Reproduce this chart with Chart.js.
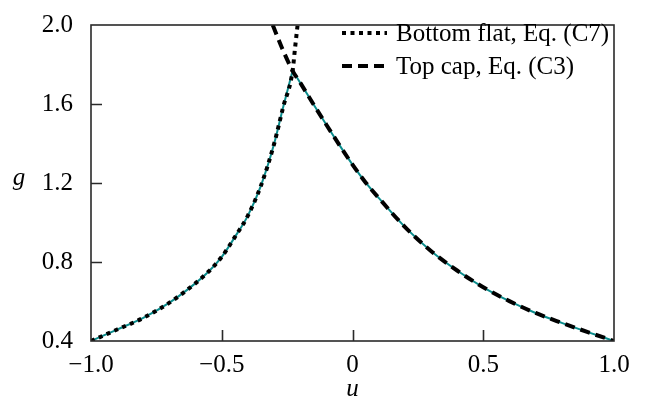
<!DOCTYPE html>
<html>
<head>
<meta charset="utf-8">
<script src="https://cdn.jsdelivr.net/npm/chart.js@4.4.1/dist/chart.umd.min.js"></script>
<style>
html,body{margin:0;padding:0;background:#fff;}
#wrap{width:665px;height:402px;}
</style>
</head>
<body>
<div id="wrap"><canvas id="gChart"></canvas></div>
<script>
// g(u): bottom flat branch (C7) and top cap branch (C3)

const uBottom = [-1.0,-0.9,-0.8,-0.7,-0.6,-0.55,-0.5,-0.45,-0.4,-0.35,-0.3,-0.265,-0.229,-0.22,-0.21];
const gBottom = [0.40,0.458,0.517,0.594,0.693,0.752,0.826,0.926,1.035,1.187,1.397,1.585,1.768,1.88,2.0];

const uTop = [-0.305,-0.27,-0.229,-0.2,-0.15,-0.1,-0.05,0,0.05,0.1,0.2,0.3,0.4,0.5,0.6,0.7,0.8,0.9,1.0];
const gTop = [2.0,1.885,1.768,1.708,1.600,1.495,1.392,1.293,1.203,1.125,0.978,0.856,0.757,0.672,0.602,0.542,0.492,0.445,0.40];

const uPeak = -0.229;

const xTicks = [-1.0,-0.5,0,0.5,1.0];
const yTicks = [0.4,0.8,1.2,1.6,2.0];

const seriesNames = ["Bottom flat, Eq. (C7)","Top cap, Eq. (C3)"];

const FONT = "'Liberation Serif','Times New Roman',serif";
const TEAL = "#0b8c8c";

function pts(us, gs){
  return us.map((u,i) => ({x:u, y:gs[i]}));
}

// teal curve = lower envelope, split at the cusp
const tealLeft = pts(uBottom, gBottom).filter(p => p.x <= uPeak);
const tealRight = pts(uTop, gTop).filter(p => p.x >= uPeak);

function fmt(v){
  if (v === 0) return "0";
  const s = Math.abs(v).toFixed(1);
  return v < 0 ? "\u2212" + s : s;
}

const framePlugin = {
  id:"frame",
  afterDraw(chart){
    const ctx = chart.ctx;
    const a = chart.chartArea;
    const xs = chart.scales.x, ys = chart.scales.y;
    ctx.save();
    ctx.strokeStyle = "#2a2a2a";
    ctx.lineWidth = 1.6;
    ctx.setLineDash([]);
    ctx.strokeRect(a.left, a.top, a.right - a.left, a.bottom - a.top);
    ctx.beginPath();
    xTicks.slice(1,-1).forEach(v => {
      const px = Math.round(xs.getPixelForValue(v)) + 0.5;
      ctx.moveTo(px, a.bottom);
      ctx.lineTo(px, a.bottom - 11);
    });
    yTicks.slice(1,-1).forEach(v => {
      const py = Math.round(ys.getPixelForValue(v)) + 0.5;
      ctx.moveTo(a.left, py);
      ctx.lineTo(a.left + 11, py);
    });
    ctx.stroke();

    // axis titles
    ctx.fillStyle = "#000";
    ctx.font = "italic 25px " + FONT;
    ctx.textAlign = "center";
    ctx.textBaseline = "middle";
    ctx.fillText("g", 19, ys.getPixelForValue(1.2) - 5);
    ctx.fillText("u", xs.getPixelForValue(0), 389);

    // legend
    ctx.font = "25px " + FONT;
    ctx.textAlign = "left";
    chart.data.datasets.forEach(ds => {
      if (!ds.legendRow) return;
      const y = ds.legendRow;
      ctx.strokeStyle = ds.borderColor;
      ctx.lineWidth = ds.borderWidth;
      ctx.lineCap = "butt";
      ctx.setLineDash(ds.borderDash);
      ctx.beginPath();
      ctx.moveTo(342, y);
      ctx.lineTo(387, y);
      ctx.stroke();
      ctx.setLineDash([]);
      ctx.fillText(ds.label, 396, y + 1);
    });
    ctx.restore();
  }
};

new Chart(
document.getElementById("gChart"),
{
type:"line",

data:{
datasets:[
{
label:seriesNames[0],
data:pts(uBottom, gBottom),
borderColor:"#000",
borderWidth:4,
borderDash:[4,4.5],
legendRow:33,
order:1
},
{
label:seriesNames[1],
data:pts(uTop, gTop),
borderColor:"#000",
borderWidth:4,
borderDash:[10,6],
legendRow:66,
order:2
},
{
label:"",
data:tealLeft,
borderColor:TEAL,
borderWidth:2,
order:3
},
{
label:"",
data:tealRight,
borderColor:TEAL,
borderWidth:2,
order:4
}
]
},

options:{
responsive:true,
maintainAspectRatio:false,
animation:false,
layout:{padding:{top:13,right:51,left:0,bottom:0}},
elements:{
point:{radius:0},
line:{cubicInterpolationMode:"monotone",fill:false}
},
plugins:{
legend:{display:false},
tooltip:{enabled:false}
},
scales:{
x:{
type:"linear",
min:-1,
max:1,
afterBuildTicks:s => { s.ticks = xTicks.map(v => ({value:v})); },
afterFit:s => { s.height = 61; },
grid:{display:false},
border:{display:false},
ticks:{
color:"#000",
padding:1,
maxRotation:0,
font:{family:FONT,size:25},
callback:v => fmt(v)
}
},
y:{
type:"linear",
min:0.4,
max:2.0,
afterBuildTicks:s => { s.ticks = yTicks.map(v => ({value:v})); },
afterFit:s => { s.width = 91; },
grid:{display:false},
border:{display:false},
ticks:{
color:"#000",
padding:10,
font:{family:FONT,size:25},
callback:v => v.toFixed(1)
}
}
}
},

plugins:[framePlugin]
}
);
</script>
</body>
</html>
